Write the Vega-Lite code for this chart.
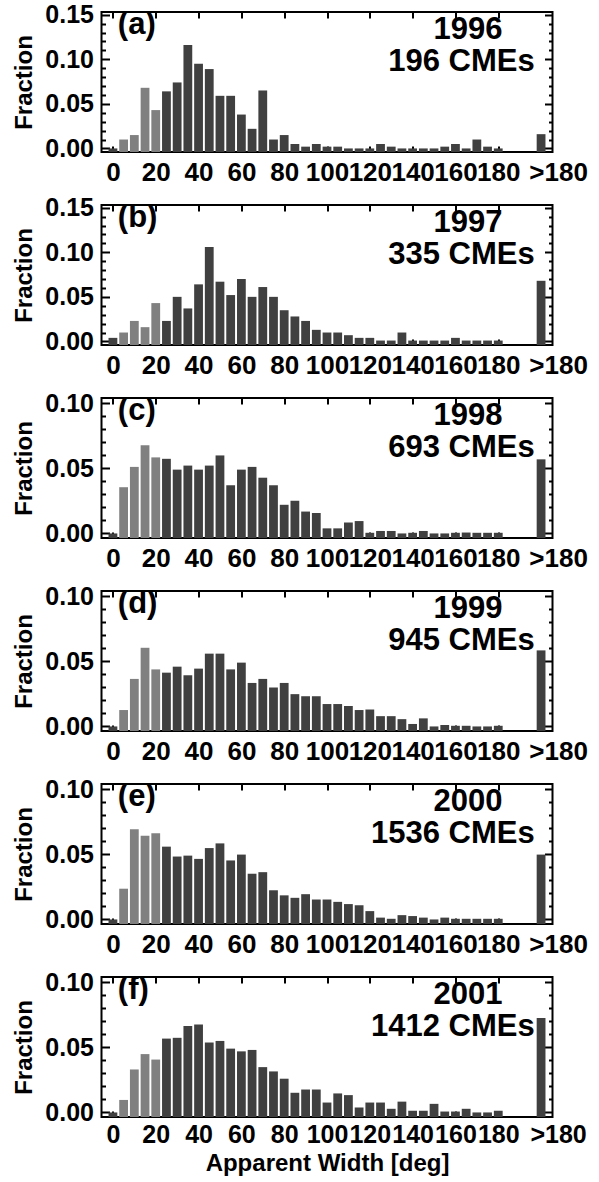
{
  "$schema": "https://vega.github.io/schema/vega-lite/v6.json",
  "autosize": {"type": "none"},
  "padding": {"left": 101.5, "top": 12, "right": 497.5, "bottom": 1170},
  "spacing": 53,
  "bounds": "flush",
  "config": {
    "view": {"stroke": "black", "strokeWidth": 2},
    "font": "Liberation Sans",
    "axis": {"domain": false, "grid": false, "labelFont": "Liberation Sans", "labelFontWeight": "bold", "labelColor": "black", "titleFont": "Liberation Sans", "titleFontWeight": "bold", "titleFontSize": 24, "titleColor": "black", "tickColor": "black", "tickWidth": 2, "labelFlush": false, "labelOverlap": false},
    "axisX": {"labelFontSize": 26},
    "axisY": {"labelFontSize": 25},
    "text": {"font": "Liberation Sans", "fontWeight": "bold", "fontSize": 31, "color": "black"}
  },
  "datasets": {
    "tags": [
      {"panel": "a", "tag": "(a)", "year": "1996", "count": "196 CMEs"},
      {"panel": "b", "tag": "(b)", "year": "1997", "count": "335 CMEs"},
      {"panel": "c", "tag": "(c)", "year": "1998", "count": "693 CMEs"},
      {"panel": "d", "tag": "(d)", "year": "1999", "count": "945 CMEs"},
      {"panel": "e", "tag": "(e)", "year": "2000", "count": "1536 CMEs"},
      {"panel": "f", "tag": "(f)", "year": "2001", "count": "1412 CMEs"}
    ],
    "hist": [
      {"panel":"a","width":0,"fraction":0},{"panel":"a","width":5,"fraction":0.010},{"panel":"a","width":10,"fraction":0.015},{"panel":"a","width":15,"fraction":0.068},{"panel":"a","width":20,"fraction":0.043},{"panel":"a","width":25,"fraction":0.064},{"panel":"a","width":30,"fraction":0.074},{"panel":"a","width":35,"fraction":0.116},{"panel":"a","width":40,"fraction":0.095},{"panel":"a","width":45,"fraction":0.089},{"panel":"a","width":50,"fraction":0.059},{"panel":"a","width":55,"fraction":0.059},{"panel":"a","width":60,"fraction":0.038},{"panel":"a","width":65,"fraction":0.022},{"panel":"a","width":70,"fraction":0.065},{"panel":"a","width":75,"fraction":0.010},{"panel":"a","width":80,"fraction":0.015},{"panel":"a","width":85,"fraction":0.005},{"panel":"a","width":90,"fraction":0.002},{"panel":"a","width":95,"fraction":0.005},{"panel":"a","width":100,"fraction":0.002},{"panel":"a","width":105,"fraction":0.002},{"panel":"a","width":110,"fraction":0},{"panel":"a","width":115,"fraction":0},{"panel":"a","width":120,"fraction":0},{"panel":"a","width":125,"fraction":0.005},{"panel":"a","width":130,"fraction":0.002},{"panel":"a","width":135,"fraction":0},{"panel":"a","width":140,"fraction":0},{"panel":"a","width":145,"fraction":0},{"panel":"a","width":150,"fraction":0},{"panel":"a","width":155,"fraction":0.002},{"panel":"a","width":160,"fraction":0.005},{"panel":"a","width":165,"fraction":0},{"panel":"a","width":170,"fraction":0.010},{"panel":"a","width":175,"fraction":0.002},{"panel":"a","width":180,"fraction":0},{"panel":"a","width":200,"fraction":0.016},
      {"panel":"b","width":0,"fraction":0.004},{"panel":"b","width":5,"fraction":0.010},{"panel":"b","width":10,"fraction":0.023},{"panel":"b","width":15,"fraction":0.016},{"panel":"b","width":20,"fraction":0.043},{"panel":"b","width":25,"fraction":0.023},{"panel":"b","width":30,"fraction":0.050},{"panel":"b","width":35,"fraction":0.037},{"panel":"b","width":40,"fraction":0.064},{"panel":"b","width":45,"fraction":0.106},{"panel":"b","width":50,"fraction":0.067},{"panel":"b","width":55,"fraction":0.052},{"panel":"b","width":60,"fraction":0.070},{"panel":"b","width":65,"fraction":0.050},{"panel":"b","width":70,"fraction":0.061},{"panel":"b","width":75,"fraction":0.050},{"panel":"b","width":80,"fraction":0.035},{"panel":"b","width":85,"fraction":0.028},{"panel":"b","width":90,"fraction":0.023},{"panel":"b","width":95,"fraction":0.013},{"panel":"b","width":100,"fraction":0.010},{"panel":"b","width":105,"fraction":0.010},{"panel":"b","width":110,"fraction":0.007},{"panel":"b","width":115,"fraction":0.004},{"panel":"b","width":120,"fraction":0.004},{"panel":"b","width":125,"fraction":0.001},{"panel":"b","width":130,"fraction":0.001},{"panel":"b","width":135,"fraction":0.010},{"panel":"b","width":140,"fraction":0.001},{"panel":"b","width":145,"fraction":0.001},{"panel":"b","width":150,"fraction":0.001},{"panel":"b","width":155,"fraction":0.001},{"panel":"b","width":160,"fraction":0.004},{"panel":"b","width":165,"fraction":0.001},{"panel":"b","width":170,"fraction":0.001},{"panel":"b","width":175,"fraction":0.001},{"panel":"b","width":180,"fraction":0.001},{"panel":"b","width":200,"fraction":0.068},
      {"panel":"c","width":0,"fraction":0},{"panel":"c","width":5,"fraction":0.0355},{"panel":"c","width":10,"fraction":0.0511},{"panel":"c","width":15,"fraction":0.0677},{"panel":"c","width":20,"fraction":0.0584},{"panel":"c","width":25,"fraction":0.0573},{"panel":"c","width":30,"fraction":0.049},{"panel":"c","width":35,"fraction":0.0521},{"panel":"c","width":40,"fraction":0.049},{"panel":"c","width":45,"fraction":0.0521},{"panel":"c","width":50,"fraction":0.0599},{"panel":"c","width":55,"fraction":0.037},{"panel":"c","width":60,"fraction":0.049},{"panel":"c","width":65,"fraction":0.0511},{"panel":"c","width":70,"fraction":0.0428},{"panel":"c","width":75,"fraction":0.037},{"panel":"c","width":80,"fraction":0.022},{"panel":"c","width":85,"fraction":0.0251},{"panel":"c","width":90,"fraction":0.0168},{"panel":"c","width":95,"fraction":0.0157},{"panel":"c","width":100,"fraction":0.0039},{"panel":"c","width":105,"fraction":0.0039},{"panel":"c","width":110,"fraction":0.0084},{"panel":"c","width":115,"fraction":0.0095},{"panel":"c","width":120,"fraction":0.0005},{"panel":"c","width":125,"fraction":0.0019},{"panel":"c","width":130,"fraction":0.0019},{"panel":"c","width":135,"fraction":0},{"panel":"c","width":140,"fraction":0.0005},{"panel":"c","width":145,"fraction":0.0019},{"panel":"c","width":150,"fraction":0},{"panel":"c","width":155,"fraction":0},{"panel":"c","width":160,"fraction":0.0005},{"panel":"c","width":165,"fraction":0.0007},{"panel":"c","width":170,"fraction":0.0005},{"panel":"c","width":175,"fraction":0.0005},{"panel":"c","width":180,"fraction":0.0005},{"panel":"c","width":200,"fraction":0.0569},
      {"panel":"d","width":0,"fraction":0},{"panel":"d","width":5,"fraction":0.0126},{"panel":"d","width":10,"fraction":0.0365},{"panel":"d","width":15,"fraction":0.0604},{"panel":"d","width":20,"fraction":0.0438},{"panel":"d","width":25,"fraction":0.0413},{"panel":"d","width":30,"fraction":0.0459},{"panel":"d","width":35,"fraction":0.0393},{"panel":"d","width":40,"fraction":0.0444},{"panel":"d","width":45,"fraction":0.0559},{"panel":"d","width":50,"fraction":0.0559},{"panel":"d","width":55,"fraction":0.0438},{"panel":"d","width":60,"fraction":0.049},{"panel":"d","width":65,"fraction":0.0334},{"panel":"d","width":70,"fraction":0.0365},{"panel":"d","width":75,"fraction":0.0299},{"panel":"d","width":80,"fraction":0.0334},{"panel":"d","width":85,"fraction":0.0248},{"panel":"d","width":90,"fraction":0.0232},{"panel":"d","width":95,"fraction":0.0232},{"panel":"d","width":100,"fraction":0.0172},{"panel":"d","width":105,"fraction":0.0172},{"panel":"d","width":110,"fraction":0.0157},{"panel":"d","width":115,"fraction":0.0126},{"panel":"d","width":120,"fraction":0.013},{"panel":"d","width":125,"fraction":0.0079},{"panel":"d","width":130,"fraction":0.0079},{"panel":"d","width":135,"fraction":0.0056},{"panel":"d","width":140,"fraction":0.0019},{"panel":"d","width":145,"fraction":0.0062},{"panel":"d","width":150,"fraction":0},{"panel":"d","width":155,"fraction":0.0011},{"panel":"d","width":160,"fraction":0.0005},{"panel":"d","width":165,"fraction":0.0005},{"panel":"d","width":170,"fraction":0},{"panel":"d","width":175,"fraction":0},{"panel":"d","width":180,"fraction":0.0005},{"panel":"d","width":200,"fraction":0.0584},
      {"panel":"e","width":0,"fraction":0},{"panel":"e","width":5,"fraction":0.0236},{"panel":"e","width":10,"fraction":0.0693},{"panel":"e","width":15,"fraction":0.0643},{"panel":"e","width":20,"fraction":0.0661},{"panel":"e","width":25,"fraction":0.0559},{"panel":"e","width":30,"fraction":0.0483},{"panel":"e","width":35,"fraction":0.049},{"panel":"e","width":40,"fraction":0.0465},{"panel":"e","width":45,"fraction":0.0548},{"panel":"e","width":50,"fraction":0.0584},{"panel":"e","width":55,"fraction":0.0453},{"panel":"e","width":60,"fraction":0.0498},{"panel":"e","width":65,"fraction":0.0351},{"panel":"e","width":70,"fraction":0.0363},{"panel":"e","width":75,"fraction":0.0224},{"panel":"e","width":80,"fraction":0.0185},{"panel":"e","width":85,"fraction":0.0166},{"panel":"e","width":90,"fraction":0.0194},{"panel":"e","width":95,"fraction":0.0153},{"panel":"e","width":100,"fraction":0.0153},{"panel":"e","width":105,"fraction":0.0135},{"panel":"e","width":110,"fraction":0.0118},{"panel":"e","width":115,"fraction":0.0109},{"panel":"e","width":120,"fraction":0.0064},{"panel":"e","width":125,"fraction":0.0014},{"panel":"e","width":130,"fraction":0.0005},{"panel":"e","width":135,"fraction":0.0033},{"panel":"e","width":140,"fraction":0.0026},{"panel":"e","width":145,"fraction":0.0014},{"panel":"e","width":150,"fraction":0},{"panel":"e","width":155,"fraction":0.0014},{"panel":"e","width":160,"fraction":0.0005},{"panel":"e","width":165,"fraction":0.0005},{"panel":"e","width":170,"fraction":0.0005},{"panel":"e","width":175,"fraction":0.0005},{"panel":"e","width":180,"fraction":0.0005},{"panel":"e","width":200,"fraction":0.0498},
      {"panel":"f","width":0,"fraction":0},{"panel":"f","width":5,"fraction":0.0096},{"panel":"f","width":10,"fraction":0.033},{"panel":"f","width":15,"fraction":0.0448},{"panel":"f","width":20,"fraction":0.0406},{"panel":"f","width":25,"fraction":0.0567},{"panel":"f","width":30,"fraction":0.0573},{"panel":"f","width":35,"fraction":0.0663},{"panel":"f","width":40,"fraction":0.0675},{"panel":"f","width":45,"fraction":0.0537},{"panel":"f","width":50,"fraction":0.0549},{"panel":"f","width":55,"fraction":0.049},{"panel":"f","width":60,"fraction":0.0469},{"panel":"f","width":65,"fraction":0.048},{"panel":"f","width":70,"fraction":0.0348},{"panel":"f","width":75,"fraction":0.0315},{"panel":"f","width":80,"fraction":0.0259},{"panel":"f","width":85,"fraction":0.0151},{"panel":"f","width":90,"fraction":0.0176},{"panel":"f","width":95,"fraction":0.0176},{"panel":"f","width":100,"fraction":0.0076},{"panel":"f","width":105,"fraction":0.0146},{"panel":"f","width":110,"fraction":0.0133},{"panel":"f","width":115,"fraction":0.0038},{"panel":"f","width":120,"fraction":0.0076},{"panel":"f","width":125,"fraction":0.0076},{"panel":"f","width":130,"fraction":0.0028},{"panel":"f","width":135,"fraction":0.0083},{"panel":"f","width":140,"fraction":0.0013},{"panel":"f","width":145,"fraction":0.0013},{"panel":"f","width":150,"fraction":0.0066},{"panel":"f","width":155,"fraction":0.0007},{"panel":"f","width":160,"fraction":0.0007},{"panel":"f","width":165,"fraction":0.0028},{"panel":"f","width":170,"fraction":0},{"panel":"f","width":175,"fraction":0},{"panel":"f","width":180,"fraction":0.0013},{"panel":"f","width":200,"fraction":0.0725}
    ]
  },
  "vconcat": [
    {
      "width": 451, "height": 140,
      "resolve": {"axis": {"x": "independent", "y": "independent"}},
      "layer": [
        {"data": {"name": "hist"}, "transform": [{"filter": "datum.panel == 'a'"}],
         "mark": {"type": "bar", "size": 8.8},
         "encoding": {
           "x": {"field": "width", "type": "quantitative", "scale": {"domain": [-3, 203], "nice": false, "zero": false},
                 "axis": {"orient": "bottom", "values": [0,20,40,60,80,100,120,140,160,180,200], "labelExpr": "datum.value == 200 ? '>180' : datum.label", "tickSize": -6, "labelPadding": 13, "labelOffset": {"condition": {"test": "datum.value == 200", "value": 17}, "value": 0}, "title": null}},
           "y": {"field": "fraction", "type": "quantitative", "scale": {"domain": [-0.004, 0.153], "nice": false, "zero": false},
                 "axis": {"orient": "left", "values": [0,0.01,0.02,0.03,0.04,0.05,0.06,0.07,0.08,0.09,0.1,0.11,0.12,0.13,0.14,0.15], "labelExpr": "round(datum.value*100) % 5 == 0 ? format(datum.value, '.2f') : ''", "tickSize": {"condition": {"test": "round(datum.value*100) % 5 == 0", "value": -8}, "value": -4}, "labelPadding": 16, "title": "Fraction", "titlePadding": 8}},
           "y2": {"datum": -0.004},
           "color": {"condition": {"test": "datum.width >= 5 && datum.width <= 20", "value": "#808080"}, "value": "#404040"}
         }},
        {"data": {"name": "hist"}, "transform": [{"filter": "datum.panel == 'a'"}],
         "mark": {"type": "bar", "size": 8.8, "opacity": 0},
         "encoding": {
           "x": {"field": "width", "type": "quantitative", "axis": {"orient": "top", "values": [0,20,40,60,80,100,120,140,160,180], "labels": false, "tickSize": -6, "title": null}},
           "y": {"field": "fraction", "type": "quantitative", "axis": {"orient": "right", "values": [0,0.01,0.02,0.03,0.04,0.05,0.06,0.07,0.08,0.09,0.1,0.11,0.12,0.13,0.14,0.15], "labels": false, "tickSize": {"condition": {"test": "round(datum.value*100) % 5 == 0", "value": -8}, "value": -4}, "title": null}}
         }},
        {"data": {"name": "tags"}, "transform": [{"filter": "datum.panel == 'a'"}],
         "mark": {"type": "text", "align": "left", "baseline": "middle"},
         "encoding": {"x": {"datum": 2.3, "axis": null}, "y": {"datum": 0.1383, "axis": null}, "text": {"field": "tag"}}},
        {"data": {"name": "tags"}, "transform": [{"filter": "datum.panel == 'a'"}],
         "mark": {"type": "text", "align": "right", "baseline": "middle"},
         "encoding": {"x": {"datum": 182, "axis": null}, "y": {"datum": 0.1327, "axis": null}, "text": {"field": "year"}}},
        {"data": {"name": "tags"}, "transform": [{"filter": "datum.panel == 'a'"}],
         "mark": {"type": "text", "align": "right", "baseline": "middle"},
         "encoding": {"x": {"datum": 197, "axis": null}, "y": {"datum": 0.0965, "axis": null}, "text": {"field": "count"}}}
      ]
    },
    {
      "width": 451, "height": 140,
      "resolve": {"axis": {"x": "independent", "y": "independent"}},
      "layer": [
        {"data": {"name": "hist"}, "transform": [{"filter": "datum.panel == 'b'"}],
         "mark": {"type": "bar", "size": 8.8},
         "encoding": {
           "x": {"field": "width", "type": "quantitative", "scale": {"domain": [-3, 203], "nice": false, "zero": false},
                 "axis": {"orient": "bottom", "values": [0,20,40,60,80,100,120,140,160,180,200], "labelExpr": "datum.value == 200 ? '>180' : datum.label", "tickSize": -6, "labelPadding": 13, "labelOffset": {"condition": {"test": "datum.value == 200", "value": 17}, "value": 0}, "title": null}},
           "y": {"field": "fraction", "type": "quantitative", "scale": {"domain": [-0.004, 0.153], "nice": false, "zero": false},
                 "axis": {"orient": "left", "values": [0,0.01,0.02,0.03,0.04,0.05,0.06,0.07,0.08,0.09,0.1,0.11,0.12,0.13,0.14,0.15], "labelExpr": "round(datum.value*100) % 5 == 0 ? format(datum.value, '.2f') : ''", "tickSize": {"condition": {"test": "round(datum.value*100) % 5 == 0", "value": -8}, "value": -4}, "labelPadding": 16, "title": "Fraction", "titlePadding": 8}},
           "y2": {"datum": -0.004},
           "color": {"condition": {"test": "datum.width >= 5 && datum.width <= 20", "value": "#808080"}, "value": "#404040"}
         }},
        {"data": {"name": "hist"}, "transform": [{"filter": "datum.panel == 'b'"}],
         "mark": {"type": "bar", "size": 8.8, "opacity": 0},
         "encoding": {
           "x": {"field": "width", "type": "quantitative", "axis": {"orient": "top", "values": [0,20,40,60,80,100,120,140,160,180], "labels": false, "tickSize": -6, "title": null}},
           "y": {"field": "fraction", "type": "quantitative", "axis": {"orient": "right", "values": [0,0.01,0.02,0.03,0.04,0.05,0.06,0.07,0.08,0.09,0.1,0.11,0.12,0.13,0.14,0.15], "labels": false, "tickSize": {"condition": {"test": "round(datum.value*100) % 5 == 0", "value": -8}, "value": -4}, "title": null}}
         }},
        {"data": {"name": "tags"}, "transform": [{"filter": "datum.panel == 'b'"}],
         "mark": {"type": "text", "align": "left", "baseline": "middle"},
         "encoding": {"x": {"datum": 2.3, "axis": null}, "y": {"datum": 0.1383, "axis": null}, "text": {"field": "tag"}}},
        {"data": {"name": "tags"}, "transform": [{"filter": "datum.panel == 'b'"}],
         "mark": {"type": "text", "align": "right", "baseline": "middle"},
         "encoding": {"x": {"datum": 182, "axis": null}, "y": {"datum": 0.1327, "axis": null}, "text": {"field": "year"}}},
        {"data": {"name": "tags"}, "transform": [{"filter": "datum.panel == 'b'"}],
         "mark": {"type": "text", "align": "right", "baseline": "middle"},
         "encoding": {"x": {"datum": 197, "axis": null}, "y": {"datum": 0.0965, "axis": null}, "text": {"field": "count"}}}
      ]
    },
    {
      "width": 451, "height": 140,
      "resolve": {"axis": {"x": "independent", "y": "independent"}},
      "layer": [
        {"data": {"name": "hist"}, "transform": [{"filter": "datum.panel == 'c'"}],
         "mark": {"type": "bar", "size": 8.8},
         "encoding": {
           "x": {"field": "width", "type": "quantitative", "scale": {"domain": [-3, 203], "nice": false, "zero": false},
                 "axis": {"orient": "bottom", "values": [0,20,40,60,80,100,120,140,160,180,200], "labelExpr": "datum.value == 200 ? '>180' : datum.label", "tickSize": -6, "labelPadding": 13, "labelOffset": {"condition": {"test": "datum.value == 200", "value": 17}, "value": 0}, "title": null}},
           "y": {"field": "fraction", "type": "quantitative", "scale": {"domain": [-0.0035, 0.104], "nice": false, "zero": false},
                 "axis": {"orient": "left", "values": [0,0.01,0.02,0.03,0.04,0.05,0.06,0.07,0.08,0.09,0.1], "labelExpr": "round(datum.value*100) % 5 == 0 ? format(datum.value, '.2f') : ''", "tickSize": {"condition": {"test": "round(datum.value*100) % 5 == 0", "value": -8}, "value": -4}, "labelPadding": 16, "title": "Fraction", "titlePadding": 8}},
           "y2": {"datum": -0.0035},
           "color": {"condition": {"test": "datum.width >= 5 && datum.width <= 20", "value": "#808080"}, "value": "#404040"}
         }},
        {"data": {"name": "hist"}, "transform": [{"filter": "datum.panel == 'c'"}],
         "mark": {"type": "bar", "size": 8.8, "opacity": 0},
         "encoding": {
           "x": {"field": "width", "type": "quantitative", "axis": {"orient": "top", "values": [0,20,40,60,80,100,120,140,160,180], "labels": false, "tickSize": -6, "title": null}},
           "y": {"field": "fraction", "type": "quantitative", "axis": {"orient": "right", "values": [0,0.01,0.02,0.03,0.04,0.05,0.06,0.07,0.08,0.09,0.1], "labels": false, "tickSize": {"condition": {"test": "round(datum.value*100) % 5 == 0", "value": -8}, "value": -4}, "title": null}}
         }},
        {"data": {"name": "tags"}, "transform": [{"filter": "datum.panel == 'c'"}],
         "mark": {"type": "text", "align": "left", "baseline": "middle"},
         "encoding": {"x": {"datum": 2.3, "axis": null}, "y": {"datum": 0.094, "axis": null}, "text": {"field": "tag"}}},
        {"data": {"name": "tags"}, "transform": [{"filter": "datum.panel == 'c'"}],
         "mark": {"type": "text", "align": "right", "baseline": "middle"},
         "encoding": {"x": {"datum": 182, "axis": null}, "y": {"datum": 0.0902, "axis": null}, "text": {"field": "year"}}},
        {"data": {"name": "tags"}, "transform": [{"filter": "datum.panel == 'c'"}],
         "mark": {"type": "text", "align": "right", "baseline": "middle"},
         "encoding": {"x": {"datum": 197, "axis": null}, "y": {"datum": 0.0656, "axis": null}, "text": {"field": "count"}}}
      ]
    },
    {
      "width": 451, "height": 140,
      "resolve": {"axis": {"x": "independent", "y": "independent"}},
      "layer": [
        {"data": {"name": "hist"}, "transform": [{"filter": "datum.panel == 'd'"}],
         "mark": {"type": "bar", "size": 8.8},
         "encoding": {
           "x": {"field": "width", "type": "quantitative", "scale": {"domain": [-3, 203], "nice": false, "zero": false},
                 "axis": {"orient": "bottom", "values": [0,20,40,60,80,100,120,140,160,180,200], "labelExpr": "datum.value == 200 ? '>180' : datum.label", "tickSize": -6, "labelPadding": 13, "labelOffset": {"condition": {"test": "datum.value == 200", "value": 17}, "value": 0}, "title": null}},
           "y": {"field": "fraction", "type": "quantitative", "scale": {"domain": [-0.0035, 0.104], "nice": false, "zero": false},
                 "axis": {"orient": "left", "values": [0,0.01,0.02,0.03,0.04,0.05,0.06,0.07,0.08,0.09,0.1], "labelExpr": "round(datum.value*100) % 5 == 0 ? format(datum.value, '.2f') : ''", "tickSize": {"condition": {"test": "round(datum.value*100) % 5 == 0", "value": -8}, "value": -4}, "labelPadding": 16, "title": "Fraction", "titlePadding": 8}},
           "y2": {"datum": -0.0035},
           "color": {"condition": {"test": "datum.width >= 5 && datum.width <= 20", "value": "#808080"}, "value": "#404040"}
         }},
        {"data": {"name": "hist"}, "transform": [{"filter": "datum.panel == 'd'"}],
         "mark": {"type": "bar", "size": 8.8, "opacity": 0},
         "encoding": {
           "x": {"field": "width", "type": "quantitative", "axis": {"orient": "top", "values": [0,20,40,60,80,100,120,140,160,180], "labels": false, "tickSize": -6, "title": null}},
           "y": {"field": "fraction", "type": "quantitative", "axis": {"orient": "right", "values": [0,0.01,0.02,0.03,0.04,0.05,0.06,0.07,0.08,0.09,0.1], "labels": false, "tickSize": {"condition": {"test": "round(datum.value*100) % 5 == 0", "value": -8}, "value": -4}, "title": null}}
         }},
        {"data": {"name": "tags"}, "transform": [{"filter": "datum.panel == 'd'"}],
         "mark": {"type": "text", "align": "left", "baseline": "middle"},
         "encoding": {"x": {"datum": 2.3, "axis": null}, "y": {"datum": 0.094, "axis": null}, "text": {"field": "tag"}}},
        {"data": {"name": "tags"}, "transform": [{"filter": "datum.panel == 'd'"}],
         "mark": {"type": "text", "align": "right", "baseline": "middle"},
         "encoding": {"x": {"datum": 182, "axis": null}, "y": {"datum": 0.0902, "axis": null}, "text": {"field": "year"}}},
        {"data": {"name": "tags"}, "transform": [{"filter": "datum.panel == 'd'"}],
         "mark": {"type": "text", "align": "right", "baseline": "middle"},
         "encoding": {"x": {"datum": 197, "axis": null}, "y": {"datum": 0.0656, "axis": null}, "text": {"field": "count"}}}
      ]
    },
    {
      "width": 451, "height": 140,
      "resolve": {"axis": {"x": "independent", "y": "independent"}},
      "layer": [
        {"data": {"name": "hist"}, "transform": [{"filter": "datum.panel == 'e'"}],
         "mark": {"type": "bar", "size": 8.8},
         "encoding": {
           "x": {"field": "width", "type": "quantitative", "scale": {"domain": [-3, 203], "nice": false, "zero": false},
                 "axis": {"orient": "bottom", "values": [0,20,40,60,80,100,120,140,160,180,200], "labelExpr": "datum.value == 200 ? '>180' : datum.label", "tickSize": -6, "labelPadding": 13, "labelOffset": {"condition": {"test": "datum.value == 200", "value": 17}, "value": 0}, "title": null}},
           "y": {"field": "fraction", "type": "quantitative", "scale": {"domain": [-0.0035, 0.104], "nice": false, "zero": false},
                 "axis": {"orient": "left", "values": [0,0.01,0.02,0.03,0.04,0.05,0.06,0.07,0.08,0.09,0.1], "labelExpr": "round(datum.value*100) % 5 == 0 ? format(datum.value, '.2f') : ''", "tickSize": {"condition": {"test": "round(datum.value*100) % 5 == 0", "value": -8}, "value": -4}, "labelPadding": 16, "title": "Fraction", "titlePadding": 8}},
           "y2": {"datum": -0.0035},
           "color": {"condition": {"test": "datum.width >= 5 && datum.width <= 20", "value": "#808080"}, "value": "#404040"}
         }},
        {"data": {"name": "hist"}, "transform": [{"filter": "datum.panel == 'e'"}],
         "mark": {"type": "bar", "size": 8.8, "opacity": 0},
         "encoding": {
           "x": {"field": "width", "type": "quantitative", "axis": {"orient": "top", "values": [0,20,40,60,80,100,120,140,160,180], "labels": false, "tickSize": -6, "title": null}},
           "y": {"field": "fraction", "type": "quantitative", "axis": {"orient": "right", "values": [0,0.01,0.02,0.03,0.04,0.05,0.06,0.07,0.08,0.09,0.1], "labels": false, "tickSize": {"condition": {"test": "round(datum.value*100) % 5 == 0", "value": -8}, "value": -4}, "title": null}}
         }},
        {"data": {"name": "tags"}, "transform": [{"filter": "datum.panel == 'e'"}],
         "mark": {"type": "text", "align": "left", "baseline": "middle"},
         "encoding": {"x": {"datum": 2.3, "axis": null}, "y": {"datum": 0.094, "axis": null}, "text": {"field": "tag"}}},
        {"data": {"name": "tags"}, "transform": [{"filter": "datum.panel == 'e'"}],
         "mark": {"type": "text", "align": "right", "baseline": "middle"},
         "encoding": {"x": {"datum": 182, "axis": null}, "y": {"datum": 0.0902, "axis": null}, "text": {"field": "year"}}},
        {"data": {"name": "tags"}, "transform": [{"filter": "datum.panel == 'e'"}],
         "mark": {"type": "text", "align": "right", "baseline": "middle"},
         "encoding": {"x": {"datum": 197, "axis": null}, "y": {"datum": 0.0656, "axis": null}, "text": {"field": "count"}}}
      ]
    },
    {
      "width": 451, "height": 140,
      "resolve": {"axis": {"x": "independent", "y": "independent"}},
      "layer": [
        {"data": {"name": "hist"}, "transform": [{"filter": "datum.panel == 'f'"}],
         "mark": {"type": "bar", "size": 8.8},
         "encoding": {
           "x": {"field": "width", "type": "quantitative", "scale": {"domain": [-3, 203], "nice": false, "zero": false},
                 "axis": {"orient": "bottom", "values": [0,20,40,60,80,100,120,140,160,180,200], "labelExpr": "datum.value == 200 ? '>180' : datum.label", "tickSize": -6, "labelFontSize": 25, "labelPadding": 11, "labelOffset": {"condition": {"test": "datum.value == 200", "value": 17}, "value": 0}, "title": "Apparent Width [deg]", "titlePadding": 4}},
           "y": {"field": "fraction", "type": "quantitative", "scale": {"domain": [-0.0035, 0.104], "nice": false, "zero": false},
                 "axis": {"orient": "left", "values": [0,0.01,0.02,0.03,0.04,0.05,0.06,0.07,0.08,0.09,0.1], "labelExpr": "round(datum.value*100) % 5 == 0 ? format(datum.value, '.2f') : ''", "tickSize": {"condition": {"test": "round(datum.value*100) % 5 == 0", "value": -8}, "value": -4}, "labelPadding": 16, "title": "Fraction", "titlePadding": 8}},
           "y2": {"datum": -0.0035},
           "color": {"condition": {"test": "datum.width >= 5 && datum.width <= 20", "value": "#808080"}, "value": "#404040"}
         }},
        {"data": {"name": "hist"}, "transform": [{"filter": "datum.panel == 'f'"}],
         "mark": {"type": "bar", "size": 8.8, "opacity": 0},
         "encoding": {
           "x": {"field": "width", "type": "quantitative", "axis": {"orient": "top", "values": [0,20,40,60,80,100,120,140,160,180], "labels": false, "tickSize": -6, "title": null}},
           "y": {"field": "fraction", "type": "quantitative", "axis": {"orient": "right", "values": [0,0.01,0.02,0.03,0.04,0.05,0.06,0.07,0.08,0.09,0.1], "labels": false, "tickSize": {"condition": {"test": "round(datum.value*100) % 5 == 0", "value": -8}, "value": -4}, "title": null}}
         }},
        {"data": {"name": "tags"}, "transform": [{"filter": "datum.panel == 'f'"}],
         "mark": {"type": "text", "align": "left", "baseline": "middle"},
         "encoding": {"x": {"datum": 2.3, "axis": null}, "y": {"datum": 0.094, "axis": null}, "text": {"field": "tag"}}},
        {"data": {"name": "tags"}, "transform": [{"filter": "datum.panel == 'f'"}],
         "mark": {"type": "text", "align": "right", "baseline": "middle"},
         "encoding": {"x": {"datum": 182, "axis": null}, "y": {"datum": 0.0902, "axis": null}, "text": {"field": "year"}}},
        {"data": {"name": "tags"}, "transform": [{"filter": "datum.panel == 'f'"}],
         "mark": {"type": "text", "align": "right", "baseline": "middle"},
         "encoding": {"x": {"datum": 197, "axis": null}, "y": {"datum": 0.0656, "axis": null}, "text": {"field": "count"}}}
      ]
    }
  ]
}
